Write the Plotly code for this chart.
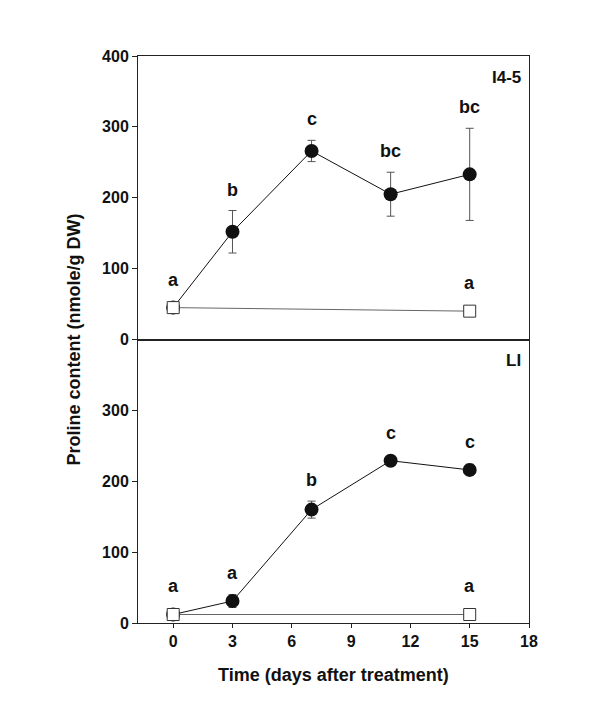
import plotly.graph_objects as go
from plotly.subplots import make_subplots

# ── Data ────────────────────────────────────────────────────────────────────
DAYS = [0, 3, 7, 11, 15]
CTRL_DAYS = [0, 15]

# I4-5 (top panel)
I45_TREAT = [45, 152, 266, 205, 233]
I45_TREAT_SD = [7, 30, 15, 31, 65]
I45_TREAT_LETTERS = ["a", "b", "c", "bc", "bc"]
I45_CTRL = [45, 40]
I45_CTRL_SD = [7, 0]
I45_CTRL_LETTERS = ["", "a"]

# LI (bottom panel)
LI_TREAT = [12, 31, 160, 229, 216]
LI_TREAT_SD = [4, 9, 12, 0, 8]
LI_TREAT_LETTERS = ["a", "a", "b", "c", "c"]
LI_CTRL = [12, 12]
LI_CTRL_SD = [4, 0]
LI_CTRL_LETTERS = ["", "a"]

PANEL_NAMES = ["I4-5", "LI"]
X_TICKS = [0, 3, 6, 9, 12, 15, 18]

FONT = "Liberation Sans, Arial, sans-serif"
INK = "#111111"
ERR = "#555555"

fig = make_subplots(rows=2, cols=1, shared_xaxes=True, vertical_spacing=0)

panels = [
    (I45_TREAT, I45_TREAT_SD, I45_TREAT_LETTERS, I45_CTRL, I45_CTRL_SD, I45_CTRL_LETTERS),
    (LI_TREAT, LI_TREAT_SD, LI_TREAT_LETTERS, LI_CTRL, LI_CTRL_SD, LI_CTRL_LETTERS),
]

for row, (t, tsd, tlet, c, csd, clet) in enumerate(panels, start=1):
    fig.add_trace(go.Scatter(
        x=DAYS, y=t, mode="lines+markers",
        line=dict(color=INK, width=1),
        marker=dict(symbol="circle", size=14, color=INK),
        error_y=dict(type="data", array=tsd, color=ERR, thickness=1, width=4),
        showlegend=False,
    ), row=row, col=1)
    fig.add_trace(go.Scatter(
        x=CTRL_DAYS, y=c, mode="lines+markers",
        line=dict(color="#666666", width=1),
        marker=dict(symbol="square", size=12, color="white",
                    line=dict(color="#333333", width=1)),
        error_y=dict(type="data", array=csd, color=ERR, thickness=1, width=4),
        showlegend=False,
    ), row=row, col=1)

    yref = "y" if row == 1 else "y2"
    xref = "x" if row == 1 else "x2"
    # significance letters sit above the error bar (or marker)
    for xs, ys, sds, letters in ((DAYS, t, tsd, tlet), (CTRL_DAYS, c, csd, clet)):
        for x, y, sd, lab in zip(xs, ys, sds, letters):
            if not lab:
                continue
            fig.add_annotation(
                x=x, y=max(y + sd, y + 10), xref=xref, yref=yref,
                text=f"<b>{lab}</b>", showarrow=False,
                yanchor="middle", yshift=21,
                font=dict(family=FONT, size=18, color=INK),
            )

    # panel name in the upper right corner
    fig.add_annotation(
        x=0.985, y=0.965, xref=f"{xref} domain", yref=f"{yref} domain",
        text=f"<b>{PANEL_NAMES[row - 1]}</b>", showarrow=False,
        xanchor="right", yanchor="top",
        font=dict(family=FONT, size=17, color=INK),
    )

axis_common = dict(
    showline=True, linecolor="#222222", linewidth=1, mirror=True,
    showgrid=False, zeroline=False,
    tickfont=dict(family=FONT, size=16, color=INK),
)

fig.update_xaxes(range=[-1.78, 18], tickvals=X_TICKS, **axis_common)
fig.update_xaxes(ticks="", showticklabels=False, row=1, col=1)
fig.update_xaxes(ticks="outside", ticklen=4, tickcolor="#222222", row=2, col=1,
                 ticktext=[f"<b>{v}</b>" for v in X_TICKS])

fig.update_yaxes(range=[0, 400], ticks="outside", ticklen=5, tickcolor="#222222",
                 **axis_common)
fig.update_yaxes(tickvals=[0, 100, 200, 300, 400],
                 ticktext=["<b>0</b>", "<b>100</b>", "<b>200</b>", "<b>300</b>", "<b>400</b>"],
                 row=1, col=1)
fig.update_yaxes(tickvals=[0, 100, 200, 300],
                 ticktext=["<b>0</b>", "<b>100</b>", "<b>200</b>", "<b>300</b>"],
                 row=2, col=1)

# shared axis titles
fig.add_annotation(
    x=-0.166, y=0.5, xref="paper", yref="paper",
    xanchor="center", yanchor="middle",
    text="<b>Proline content (nmole/g DW)</b>", textangle=-90, showarrow=False,
    font=dict(family=FONT, size=18, color=INK),
)
fig.add_annotation(
    x=0.5, y=-0.092, xref="paper", yref="paper",
    xanchor="center", yanchor="middle",
    text="<b>Time (days after treatment)</b>", showarrow=False,
    font=dict(family=FONT, size=18, color=INK),
)

fig.update_layout(
    width=600, height=723,
    margin=dict(l=130, r=79, t=48, b=108),
    paper_bgcolor="white", plot_bgcolor="white",
    font=dict(family=FONT, color=INK),
)

fig.write_html("out.html")
